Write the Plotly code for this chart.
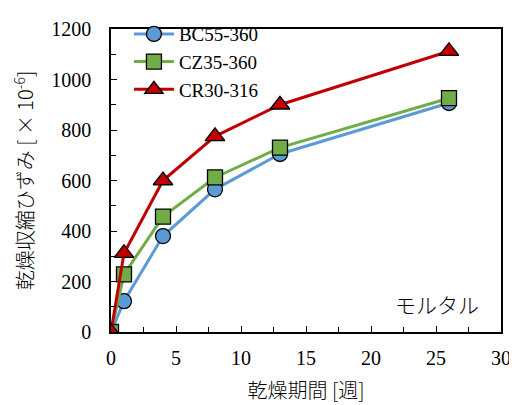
import plotly.graph_objects as go

weeks = [0, 1, 4, 8, 13, 26]
bc55 = [0, 122, 380, 565, 705, 907]
cz35 = [0, 228, 457, 612, 730, 926]
cr30 = [0, 312, 600, 775, 900, 1112]

series = [
    ("BC55-360", bc55, "#5B9BD5", "circle", 15),
    ("CZ35-360", cz35, "#70AD47", "square", 15),
    ("CR30-316", cr30, "#C00000", "triangle-up", 17),
]

fig = go.Figure()
for name, ys, col, sym, sz in series:
    fig.add_trace(go.Scatter(
        x=weeks, y=ys, name=name, mode="lines+markers",
        line=dict(color=col, width=3),
        marker=dict(symbol=sym, size=sz, color=col, line=dict(color="black", width=1.3)),
    ))

serif = "Liberation Serif, Times New Roman, Noto Sans CJK JP"
cjk = dict(size=20, family="Noto Sans CJK JP", weight=300)
fig.update_layout(
    width=517, height=405,
    margin=dict(l=103, r=24, t=7, b=81),
    plot_bgcolor="white", paper_bgcolor="white",
    font=dict(family=serif, size=20, color="black"),
    legend=dict(x=0.046, y=1.046, xanchor="left", yanchor="top",
                bgcolor="rgba(0,0,0,0)", font=dict(size=19), tracegroupgap=0,
                itemwidth=40),
    showlegend=True,
)
fig.update_xaxes(
    range=[0, 30], dtick=5, tick0=0, automargin=False,
    ticks="inside", ticklen=6, tickcolor="black", tickwidth=1.3,
    minor=dict(dtick=2.5, ticks="inside", ticklen=5, tickcolor="black", tickwidth=1.3),
    showline=True, linecolor="black", linewidth=1.5, mirror=True,
    showgrid=False, zeroline=False,
    tickfont=dict(size=20), ticklabelstandoff=7,
    title=dict(text="乾燥期間 [週]", font=cjk, standoff=16),
)
fig.update_yaxes(
    range=[0, 1200], dtick=200, tick0=0, automargin=False,
    ticks="inside", ticklen=6, tickcolor="black", tickwidth=1.3,
    minor=dict(dtick=100, ticks="inside", ticklen=5, tickcolor="black", tickwidth=1.3),
    showline=True, linecolor="black", linewidth=1.5, mirror=True,
    showgrid=False, zeroline=False,
    tickfont=dict(size=20), ticklabelstandoff=14,
    title=dict(text="乾燥収縮ひずみ [ × 10<sup>-6</sup>]", font=cjk, standoff=12),
)
fig.add_annotation(x=0.949, y=0.036, xref="paper", yref="paper", xanchor="right", yanchor="bottom",
                   text="モルタル", showarrow=False, font=dict(size=21, family="Noto Sans CJK JP", weight=300))
fig.write_html("out.html")
